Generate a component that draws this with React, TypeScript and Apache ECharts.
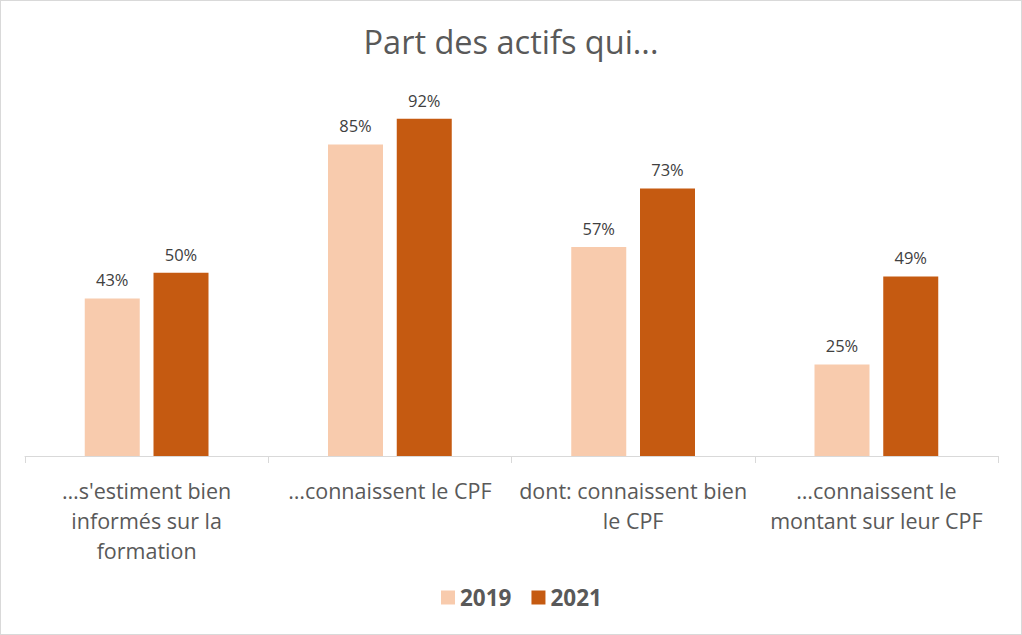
import React, { useEffect, useRef } from "react";
import * as echarts from "echarts";

const categories = [
  "…s'estiment bien\ninformés sur la\nformation",
  "…connaissent le CPF",
  "dont: connaissent bien\nle CPF",
  "…connaissent le\nmontant sur leur CPF",
];
const seriesNames = ["2019", "2021"];
const values2019 = [43, 85, 57, 25];
const values2021 = [50, 92, 73, 49];
const colors = ["#F8CBAD", "#C55A11"];

export default function App() {
  const ref = useRef<HTMLDivElement>(null);
  useEffect(() => {
    document.body.style.margin = "0";
    const chart = echarts.init(ref.current!, null, { renderer: "svg" });
    const font = "'Open Sans', 'Noto Sans', sans-serif";
    const mk = (name: string, data: number[], color: string) => ({
      name,
      type: "bar",
      data,
      barWidth: 55,
      barGap: "25%",
      itemStyle: { color },
      label: {
        show: true,
        position: "top",
        distance: 10,
        formatter: "{c}%",
        color: "#404040",
        fontSize: 16.5,
        fontFamily: font,
      },
    });
    chart.setOption({
      animation: false,
      textStyle: { fontFamily: font },
      title: {
        text: "Part des actifs qui...",
        left: "center",
        top: 19,
        textStyle: { color: "#595959", fontSize: 32.5, fontWeight: "normal", fontFamily: font },
      },
      legend: {
        bottom: 20,
        left: 435,
        itemWidth: 14,
        itemHeight: 14,
        itemGap: 20,
        icon: "rect",
        data: seriesNames,
        textStyle: { color: "#595959", fontSize: 22.5, fontWeight: "bold", fontFamily: font },
      },
      grid: { left: 24, right: 23, top: 88.5, bottom: 178, containLabel: false },
      xAxis: {
        type: "category",
        data: categories,
        axisLine: { show: true, lineStyle: { color: "#D9D9D9" } },
        axisTick: { show: true, length: 7, lineStyle: { color: "#D9D9D9" }, alignWithLabel: false },
        axisLabel: {
          interval: 0,
          margin: 19,
          color: "#595959",
          fontSize: 21.5,
          lineHeight: 30,
          fontFamily: font,
        },
      },
      yAxis: {
        type: "value",
        min: 0,
        max: 100,
        show: false,
        splitLine: { show: false },
      },
      series: [mk(seriesNames[0], values2019, colors[0]), mk(seriesNames[1], values2021, colors[1])],
    });
    return () => chart.dispose();
  }, []);
  return (
    <div
      style={{
        width: 1022,
        height: 635,
        border: "1px solid #D9D9D9",
        boxSizing: "border-box",
        background: "#fff",
      }}
    >
      <div ref={ref} style={{ width: 1020, height: 633 }} />
    </div>
  );
}
